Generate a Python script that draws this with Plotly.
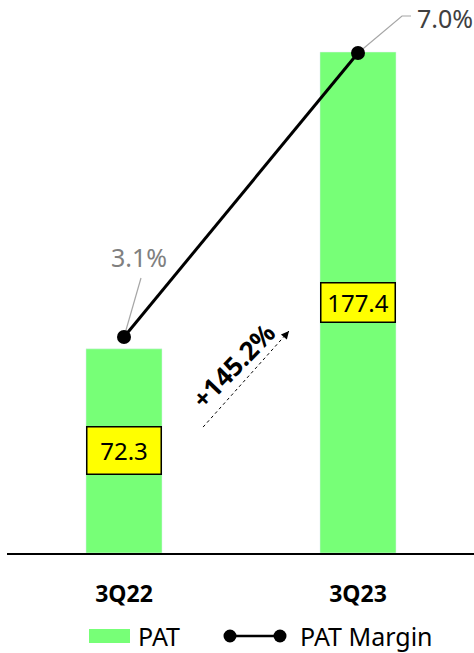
import plotly.graph_objects as go

# PAT (bars) and PAT margin (line, %)
quarters = ["3Q22", "3Q23"]
pat = [72.3, 177.4]
pat_margin = [3.1, 7.0]
growth_label = "+145.2%"

FONT = "Noto Sans"
GREEN = "#77FF77"
W, H = 474, 653
PLOT_L, PLOT_B = 7, 553          # plot-area left edge / bottom edge in px
PLOT_W, PLOT_H = W - PLOT_L, PLOT_B
x_pos = [0, 1]


def px_x(px):
    """page x (px) -> paper fraction"""
    return (px - PLOT_L) / PLOT_W


def px_y(py):
    """page y (px, top-down) -> paper fraction"""
    return (PLOT_B - py) / PLOT_H


fig = go.Figure()

fig.add_trace(go.Bar(
    x=x_pos, y=pat, name="PAT", marker_color=GREEN, width=0.325,
    yaxis="y", showlegend=False,
))

fig.add_trace(go.Scatter(
    x=x_pos, y=pat_margin, name="PAT Margin", mode="lines+markers",
    line=dict(color="black", width=3),
    marker=dict(color="black", size=14),
    yaxis="y2", showlegend=False,
))

annotations = []
shapes = []

# value boxes centred in each bar
box_heights = [44, 36]
for x, v, bh in zip(x_pos, pat, box_heights):
    annotations.append(dict(
        x=x, y=v / 2, xref="x", yref="y", text=f"{v:.1f}", showarrow=False,
        font=dict(family=FONT, size=24, color="black"),
        bgcolor="#FFFF00", bordercolor="black", borderwidth=1.5,
        width=71, height=bh, borderpad=1,
    ))

# margin labels and their leader lines (offsets in px from each point)
leader_paths = ["M0,0 L17,59", "M0,0 L44,37 L53,37"]
label_shift = [(15, 80), (87, 35)]
label_colors = ["#808080", "#404040"]
for x, m, path, (dx, dy), c in zip(x_pos, pat_margin, leader_paths,
                                    label_shift, label_colors):
    shapes.append(dict(
        type="path", xref="x", yref="y2", xsizemode="pixel",
        ysizemode="pixel", xanchor=x, yanchor=m, path=path,
        line=dict(color="#a6a6a6", width=1.2), layer="below",
    ))
    annotations.append(dict(
        x=x, y=m, xref="x", yref="y2", text=f"{m:.1f}%", showarrow=False,
        xshift=dx, yshift=dy,
        font=dict(family=FONT, size=25, color=c),
    ))

# growth annotation between the bars
tail = (0.338, 44.6)
head = (0.705, 78.6)
annotations.append(dict(
    x=0.470, y=66.4, xref="x", yref="y", text=f"<b>{growth_label}</b>",
    showarrow=False, textangle=-46,
    font=dict(family=FONT, size=26, color="black"),
))
annotations.append(dict(
    x=head[0], y=head[1], xref="x", yref="y", ax=-6, ay=7, text="",
    showarrow=True, arrowhead=2, arrowsize=1.3, arrowwidth=1.2,
    arrowcolor="black",
))
shapes.append(dict(
    type="line", xref="x", yref="y",
    x0=tail[0], y0=tail[1], x1=head[0], y1=head[1],
    line=dict(color="black", width=1, dash="dot"),
))

# legend: PAT swatch + PAT Margin line with end markers
LEG_Y = 636
shapes.append(dict(
    type="rect", xref="paper", yref="paper",
    x0=px_x(89), x1=px_x(130), y0=px_y(643), y1=px_y(629),
    fillcolor=GREEN, line=dict(width=0),
))
shapes.append(dict(
    type="line", xref="paper", yref="paper",
    x0=px_x(230), x1=px_x(280), y0=px_y(LEG_Y), y1=px_y(LEG_Y),
    line=dict(color="black", width=2.5),
))
for cx in (230, 280):
    shapes.append(dict(
        type="circle", xref="paper", yref="paper",
        x0=px_x(cx - 6.5), x1=px_x(cx + 6.5),
        y0=px_y(LEG_Y + 6.5), y1=px_y(LEG_Y - 6.5),
        fillcolor="black", line=dict(width=0),
    ))
for tx, label in ((136, "PAT"), (298, "PAT Margin")):
    annotations.append(dict(
        x=px_x(tx), y=px_y(LEG_Y), xref="paper", yref="paper",
        xanchor="left", yanchor="middle", text=label, showarrow=False,
        font=dict(family=FONT, size=25, color="black"),
    ))

fig.update_layout(
    width=W, height=H,
    margin=dict(l=PLOT_L, r=0, t=0, b=H - PLOT_B, autoexpand=False),
    plot_bgcolor="white", paper_bgcolor="white",
    font=dict(family=FONT, color="black"),
    showlegend=False,
    xaxis=dict(
        range=[-0.5, -0.5 + PLOT_W / 234], tickmode="array", tickvals=x_pos,
        ticktext=[f"<b>{q}</b>" for q in quarters],
        tickfont=dict(family=FONT, size=23, color="black"),
        showline=True, linecolor="black", linewidth=1.5,
        showgrid=False, zeroline=False, ticks="", ticklabelstandoff=20,
    ),
    yaxis=dict(
        range=[0, PLOT_B / 2.824], visible=False, showgrid=False,
        zeroline=False,
    ),
    yaxis2=dict(
        range=[0.134, 7.728], overlaying="y", visible=False,
        showgrid=False, zeroline=False,
    ),
    shapes=shapes,
    annotations=annotations,
)

fig.write_html("out.html")
